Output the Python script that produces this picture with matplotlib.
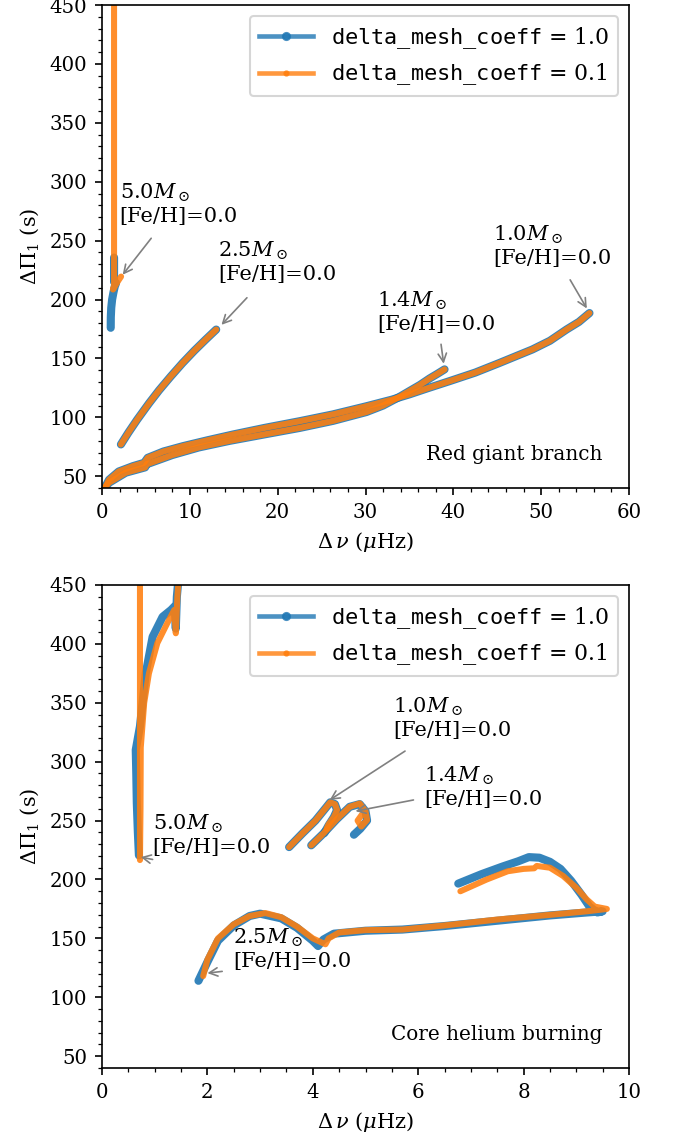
import matplotlib
matplotlib.use("Agg")
import matplotlib.pyplot as plt
from matplotlib.lines import Line2D
from matplotlib.ticker import AutoMinorLocator

plt.rcParams['font.family'] = ['DejaVu Serif']
plt.rcParams['mathtext.fontset'] = 'dejavuserif'
plt.rcParams['font.size'] = 10

# ---------------- Red giant branch (top) ----------------
# 1.0 Msun
rgb10_x = [0.3, 0.8, 1.9, 3.5, 4.8, 5.2, 7, 9.2, 12, 14.9, 18.5, 22.5, 26.3, 30.1, 33,
           35, 37, 39.6, 42.5, 45.3, 47, 49, 51, 52.9, 54.3, 55.5]
rgb10_y = [40, 47, 54, 58.5, 61.4, 65.6, 71, 75.5, 80.5, 85.4, 91, 96.7, 102.5, 109.4, 115,
           119.5, 124.5, 130.8, 138, 146.3, 151.5, 157.6, 165, 174.6, 181, 188.5]
# 1.4 Msun
rgb14_x = [0.3, 0.8, 2.7, 4.9, 5.1, 5.4, 8, 11, 14.5, 18.7, 22.5, 26.3, 30.1, 32,
           33.9, 35, 36.2, 37.3, 38.2, 39.0]
rgb14_y = [40, 44.5, 53, 57.5, 60.5, 61, 68, 74.4, 80, 85.8, 91, 97, 104.5, 110,
           117.5, 122.3, 127.5, 133, 137, 140.7]
# 2.5 Msun
rgb25_x = [2.15, 3, 4, 5.36, 6.5, 7.8, 9.16, 10.5, 11.8, 13.0]
rgb25_y = [77, 87, 98, 112, 123, 134.5, 146, 156.5, 166, 174.5]
# 5.0 Msun
rgb50_x_b = [1.37, 1.37, 1.6, 1.45, 1.3, 1.15, 1.05, 1.0, 0.99]
rgb50_y_b = [235.6, 215, 214, 211, 206, 200, 193, 185, 176]
rgb50_x_o = [1.37, 1.37, 1.25, 1.6, 1.9, 2.17]
rgb50_y_o = [520, 212, 208.5, 213, 216.5, 219.5]

# ---------------- Core helium burning (bottom) ----------------
# 1.0 Msun
he10_x_b = [3.55, 3.8, 4.05, 4.25, 4.33, 4.42, 4.46, 4.4, 4.3, 4.22]
he10_y_b = [227.5, 239, 250, 261, 265.5, 264, 259, 253, 246, 239.5]
he10_x_o = [3.55, 3.8, 4.05, 4.25, 4.33, 4.42, 4.46, 4.4, 4.3, 4.26]
he10_y_o = [227.5, 239, 250, 261, 265.5, 264, 259, 253, 247, 243]
# 1.4 Msun
he14_x_b = [3.97, 4.2, 4.45, 4.7, 4.89, 5.0, 5.03, 4.9, 4.78]
he14_y_b = [229, 239, 251, 261.7, 264, 258, 250, 243, 238]
he14_x_o = [3.97, 4.2, 4.45, 4.7, 4.89, 5.0, 5.03, 4.92, 4.85, 4.93]
he14_y_o = [229, 239, 251, 261.7, 264.5, 258, 250.5, 245, 250, 255]
# 2.5 Msun
he25_x_b = [1.83, 2.0, 2.2, 2.5, 2.8, 3.0, 3.4, 3.7, 4.0, 4.1, 4.2, 4.4, 5.0, 5.7, 6.5,
            7.5, 8.5, 9.2, 9.5, 9.4, 9.25, 9.1, 8.9, 8.7, 8.5, 8.3, 8.1, 7.9, 7.6, 7.2, 6.76]
he25_y_b = [114, 130, 148, 161, 169, 171, 167, 159, 148, 143.5, 149, 154, 156.5, 157.5, 160.5,
            165, 169.5, 172, 173, 172, 177, 187, 199, 209, 215, 218.5, 219, 215.5, 211, 204.5, 196.5]
he25_x_o = [1.92, 2.0, 2.2, 2.5, 2.8, 3.1, 3.4, 3.7, 4.0, 4.24, 4.3, 4.5, 5.0, 5.7, 6.5,
            7.5, 8.5, 9.2, 9.58, 9.35, 9.2, 9.0, 8.75, 8.5, 8.25, 8.2, 8.0, 7.7, 7.3, 6.8]
he25_y_o = [118, 132, 150, 162, 169, 171.5, 168, 160, 150, 145, 150, 155, 157, 157.5, 161,
            166, 170, 173, 175, 177, 183, 193, 203, 210, 211.5, 209.5, 209, 207, 200, 190]
# 5.0 Msun
he50_x_b = [1.47, 1.42, 1.40, 1.38, 1.31, 1.15, 0.96, 0.83, 0.72, 0.64, 0.65, 0.66, 0.68, 0.70]
he50_y_b = [465, 440, 413, 432, 428.8, 423, 406, 375, 330, 310, 290, 265, 240, 220.5]
he50_x_o = [0.72, 0.72, 0.73, 0.735, 0.8, 0.89, 1.05, 1.24, 1.37, 1.40, 1.43, 1.47]
he50_y_o = [1000, 216.5, 260, 312, 350, 375, 400.7, 417.7, 428.8, 409, 440, 465]

labels = [r'$\mathtt{delta\_mesh\_coeff}$ = 1.0', r'$\mathtt{delta\_mesh\_coeff}$ = 0.1']

# annotations: (mass, text x, text y, arrow start, arrow tip)
rgb_notes = [
    ('5.0', 2.0, 262, (5.6, 252), (2.35, 221)),
    ('2.5', 13.2, 213, (16.5, 201.5), (13.6, 178.5)),
    ('1.4', 31.3, 171, (38.6, 162), (38.9, 145.5)),
    ('1.0', 44.5, 227, (53.3, 216.7), (55.2, 192.4)),
]
he_notes = [
    ('5.0', 0.96, 219, (0.96, 217), (0.735, 219)),
    ('2.5', 2.49, 122, (2.28, 122), (2.0, 120.5)),
    ('1.0', 5.53, 318.5, (5.75, 309), (4.32, 267.5)),
    ('1.4', 6.11, 260, (5.91, 267.5), (4.81, 258)),
]

blue = dict(color='C0', lw=3.9, alpha=0.9, solid_capstyle='round', solid_joinstyle='round')
orange = dict(color='C1', lw=2.9, alpha=0.88, solid_capstyle='round', solid_joinstyle='round')

fig = plt.figure(figsize=(673 / 150, 1141 / 150), dpi=150)
ax1 = fig.add_axes([0.1516, 0.5723, 0.783, 0.4233])
ax2 = fig.add_axes([0.1516, 0.064, 0.783, 0.4233])

# top panel: blue first, orange on top
ax1.plot(rgb10_x, rgb10_y, **blue)
ax1.plot(rgb14_x, rgb14_y, **blue)
ax1.plot(rgb25_x, rgb25_y, **blue)
ax1.plot(rgb50_x_b, rgb50_y_b, **blue)
ax1.plot(rgb10_x, rgb10_y, **orange)
ax1.plot(rgb14_x, rgb14_y, **orange)
ax1.plot(rgb25_x, rgb25_y, **orange)
ax1.plot(rgb50_x_o, rgb50_y_o, **orange)

# bottom panel
ax2.plot(he10_x_b, he10_y_b, **blue)
ax2.plot(he14_x_b, he14_y_b, **blue)
ax2.plot(he25_x_b, he25_y_b, **blue)
ax2.plot(he50_x_b, he50_y_b, **blue)
ax2.plot(he10_x_o, he10_y_o, **orange)
ax2.plot(he14_x_o, he14_y_o, **orange)
ax2.plot(he25_x_o, he25_y_o, **orange)
ax2.plot(he50_x_o, he50_y_o, **orange)

handles = [Line2D([], [], color='C0', lw=2.2, marker='o', ms=3.4, alpha=0.8),
           Line2D([], [], color='C1', lw=2.2, marker='o', ms=2.0, alpha=0.8)]

for ax, notes, xmax, name in [(ax1, rgb_notes, 60, 'Red giant branch'),
                              (ax2, he_notes, 10, 'Core helium burning')]:
    for m, tx, ty, start, tip in notes:
        ax.text(tx, ty, m + r'$M_\odot$' + '\n[Fe/H]=0.0', ha='left', va='bottom')
        ax.annotate('', xy=tip, xytext=start,
                    arrowprops=dict(arrowstyle='->', color='gray', lw=0.8,
                                    shrinkA=0, shrinkB=0))
    ax.text(0.95, 0.05, name, transform=ax.transAxes, ha='right', va='bottom', fontsize=9.6)
    ax.set_xlim(0, xmax)
    ax.set_ylim(40, 450)
    ax.xaxis.set_minor_locator(AutoMinorLocator())
    ax.yaxis.set_minor_locator(AutoMinorLocator())
    ax.tick_params(labelsize=9.5)
    ax.set_xlabel(r'$\Delta\,\nu$ ($\mu$Hz)')
    ax.set_ylabel(r'$\Delta\Pi_1$ (s)')
    ax.legend(handles, labels, loc='upper right', handlelength=2.5, fontsize=10.5)

plt.savefig("out.png", dpi=150)
